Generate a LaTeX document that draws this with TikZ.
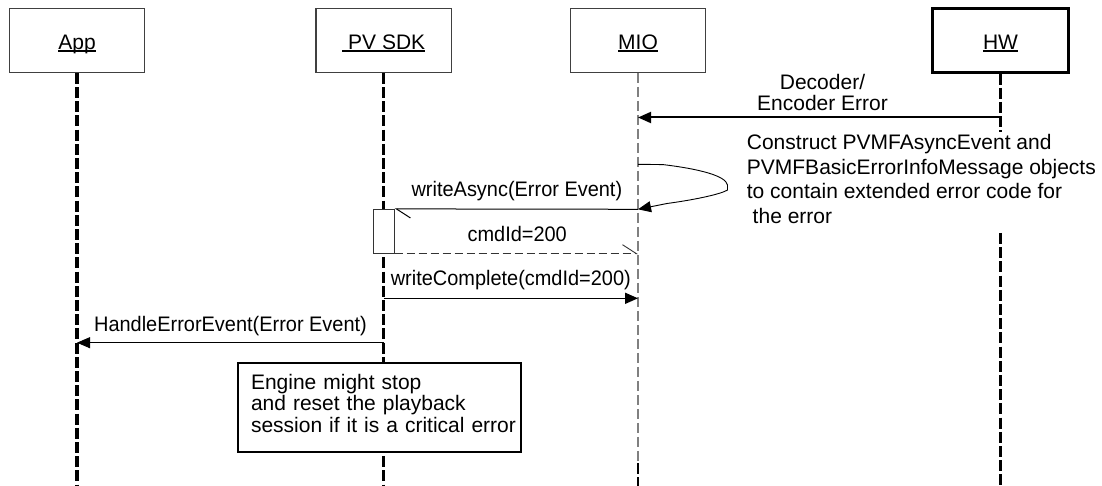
\documentclass[tikz,border=0pt]{standalone}
\usepackage{fontspec}
\setmainfont{Liberation Sans}
\newfontfamily\lblfont{Liberation Sans}[FakeStretch=0.95]
\usetikzlibrary{arrows.meta}
\newcommand{\ulin}[1]{\setbox0=\hbox{#1}\rlap{\rule[-2.3pt]{\wd0}{1.5pt}}\box0}
\begin{document}
\begin{tikzpicture}[x=1pt,y=-1pt,
  every node/.style={font=\fontsize{21}{24}\selectfont},
  actor/.style={draw=black!75, line width=1.1pt, fill=white, minimum width=135.7pt, minimum height=64pt, inner sep=0pt, text height=20pt, text depth=2pt},
  hwactor/.style={actor, draw=black, line width=2.6pt},
  life/.style={line width=3.2pt, dash pattern=on 11pt off 3.2pt},
  miolife/.style={line width=1.5pt, draw=black!50, dash pattern=on 10pt off 4pt},
  tip/.style={-{Triangle[length=13pt,width=11pt]}},
  msg/.style={draw=black, tip},
  lowbarb/.style={-{Straight Barb[left,length=14pt,width=18pt]}},
  actbox/.style={draw=black!80, fill=white, line width=0.8pt, minimum width=21pt, minimum height=44pt, inner sep=0pt},
  notebox/.style={draw=black, fill=white, line width=1.3pt, minimum width=283pt, minimum height=89pt, text width=257pt, align=left, inner sep=4pt, font=\fontsize{21}{21.7}\selectfont},
  lbl/.style={inner sep=0pt, anchor=base, font=\lblfont\fontsize{21}{24}\selectfont},
  free/.style={inner sep=0pt}
]
\fill[white] (0,0) rectangle (1102,486);
\useasboundingbox (0,0) rectangle (1102,486);

% actors
\node[actor] (app) at (77,40.3) {\ulin{App}};
\node[actor] (pvsdk) at (383.8,40.3) {\ulin{\ PV SDK}};
\node[actor] (mio) at (638,40.3) {\ulin{MIO}};
\node[hwactor] (hw) at (1000.5,40.3) {\ulin{HW}};

% lifelines
\coordinate (bot) at (0,486);
\draw[life] (app.south) -- (app |- bot);
\draw[life] (pvsdk.south) -- (pvsdk |- bot);
\draw[miolife] (mio.south) -- (mio |- 0,462);
\draw[life, line width=2pt] (mio |- 0,463) -- (mio |- bot);
\draw[life] (hw.south) -- (hw |- 0,131.7);
\draw[life] (hw |- 0,233) -- (hw |- bot);

% Decoder / Encoder error
\coordinate (hwD) at (hw |- 0,117.5);
\coordinate (mioD) at (mio |- 0,117.5);
\draw[msg, line width=2pt] (hwD) -- (mioD);
\node[free, anchor=north, align=center, font=\fontsize{21}{20.5}\selectfont] (declbl) at (822.5,74.5) {Decoder/\\Encoder Error};

% self loop
\coordinate (loopS) at (mio |- 0,164.3);
\coordinate (loopE) at (mio |- 0,209.3);
\draw[msg, line width=0.9pt] (loopS) -- (663,164.6) .. controls (700,169) and (726,176) .. (727.5,185) -- (727.5,190) .. controls (722,193.5) and (700,199) .. (667,203.5) -- (loopE);
\node[free, anchor=north west, align=left, font=\fontsize{21}{24.5}\selectfont] (construct) at (746.7,134.5) {Construct PVMFAsyncEvent and\\PVMFBasicErrorInfoMessage objects\\to contain extended error code for\\\ the error};

% activation
\node[actbox] (act) at (383.8,231.3) {};

% writeAsync
\draw[lowbarb, line width=1pt] (loopE) -- (act.north east);
\node[lbl] (walbl) at (516.9,196.7) {writeAsync(Error Event)};

% cmdId=200 return
\coordinate (mioC) at (mio |- act.south);
\draw[lowbarb, draw=black!80, line width=0.9pt, dash pattern=on 8pt off 4pt] (act.south east) -- (mioC);
\node[lbl] (cmdlbl) at (517.2,241.7) {cmdId=200};

% writeComplete
\coordinate (pvW) at (pvsdk |- 0,298.3);
\coordinate (mioW) at (mio |- 0,298.3);
\draw[msg, line width=1.6pt] (pvW) -- (mioW);
\node[lbl] (wclbl) at (510.8,285) {writeComplete(cmdId=200)};

% HandleErrorEvent
\coordinate (pvH) at (pvsdk |- 0,342.7);
\coordinate (appH) at (app |- 0,342.7);
\draw[msg, line width=1pt] (pvH) -- (appH);
\node[lbl] (helbl) at (230.5,331.7) {HandleErrorEvent(Error Event)};

% note
\node[notebox] (note) at (379.5,407.5) {\mbox{Engine might stop}\\\mbox{and reset the playback}\\\mbox{session if it is a critical error}\rule[-8.4pt]{0pt}{8.4pt}};
\end{tikzpicture}
\end{document}
